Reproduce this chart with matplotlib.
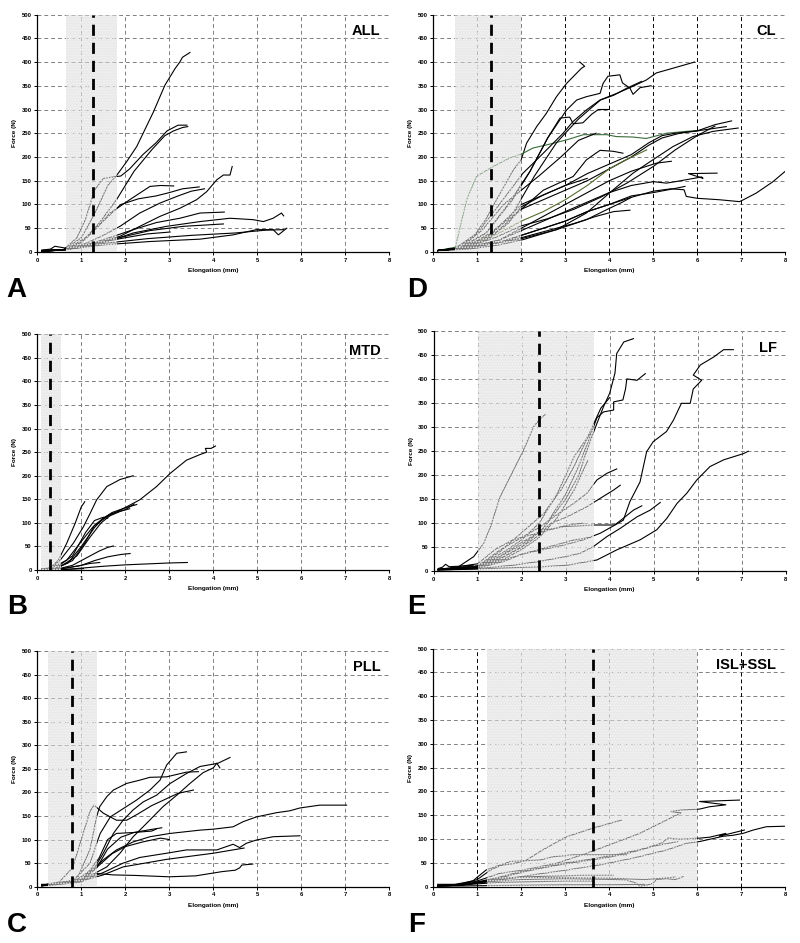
import numpy as np
import matplotlib.pyplot as plt

plt.rcParams['font.family'] = ['Liberation Sans', 'DejaVu Sans']
plt.rcParams['hatch.linewidth'] = 0.8

# ---- A: ALL ----
all_x = [
    [0.1, 0.6, 1.0, 1.3, 1.6, 1.81, 2.03, 2.26, 2.64, 2.9, 3.13, 3.24, 3.3, 3.47],
    [0.1, 0.6, 0.9, 1.1, 1.3, 1.5, 1.9, 2.1, 2.4, 2.7, 2.95, 3.2, 3.4],
    [0.1, 0.6, 1.0, 1.4, 1.8, 2.2, 2.6, 2.9, 3.1, 3.3, 3.42],
    [0.1, 0.65, 1.0, 1.3, 1.65, 1.88, 2.1, 2.33, 2.56, 2.8, 3.1],
    [0.1, 0.65, 1.1, 1.5, 1.9, 2.3, 2.7, 3.0, 3.3, 3.68],
    [0.1, 0.65, 1.1, 1.5, 1.88, 2.33, 2.79, 3.2, 3.5, 3.8],
    [0.1, 0.65, 1.2, 1.88, 2.33, 2.79, 3.24, 3.62, 3.85, 4.08, 4.23, 4.38, 4.43],
    [0.1, 0.65, 1.3, 1.8, 2.18, 2.71, 3.24, 3.7, 4.25],
    [0.1, 0.65, 1.3, 1.8, 2.18, 2.94, 3.7, 4.38, 4.91, 5.14, 5.36, 5.55, 5.6],
    [0.1, 0.65, 1.4, 2.0, 2.56, 3.32, 4.23],
    [0.1, 0.65, 1.5, 2.56, 3.7, 4.45, 4.98, 5.36, 5.48, 5.67],
    [0.1, 0.65, 1.5, 2.5, 3.5, 4.5, 5.2, 5.6],
    [0.1, 0.65, 1.3, 2.0, 2.5, 3.02],
    [0.1, 0.3, 0.4, 0.65],
]
all_y = [
    [2, 5, 30, 80, 140, 162, 190, 222, 295, 351, 386, 400, 410, 420],
    [3, 5, 30, 70, 130, 155, 160, 175, 205, 230, 255, 267, 267],
    [2, 5, 20, 60, 110, 170, 215, 245, 255, 262, 264],
    [1, 5, 20, 45, 82, 96, 110, 124, 138, 140, 139],
    [2, 5, 30, 65, 100, 112, 118, 125, 133, 137],
    [3, 5, 18, 35, 54, 82, 103, 118, 128, 133],
    [1, 5, 15, 33, 54, 75, 92, 110, 127, 152, 162, 162, 180],
    [2, 5, 20, 35, 47, 62, 71, 82, 84],
    [3, 5, 15, 28, 40, 54, 64, 71, 68, 64, 71, 82, 76],
    [1, 5, 20, 33, 45, 54, 59],
    [2, 5, 15, 22, 27, 36, 47, 47, 36, 50],
    [1, 5, 18, 28, 35, 40, 46, 47],
    [2, 5, 18, 30, 38, 42],
    [4, 6, 12, 8],
]

# ---- B: MTD ----
mtd_x = [
    [0.1, 0.3, 0.67, 0.97, 1.27, 1.58, 2.03, 2.33, 2.71, 3.02, 3.39, 3.7, 3.85, 3.82, 3.95, 4.05],
    [0.1, 0.3, 0.52, 0.82, 1.05, 1.2, 1.35, 1.58, 1.88, 2.18],
    [0.1, 0.3, 0.48, 0.67, 0.86, 1.0, 1.08],
    [0.1, 0.4, 0.7, 1.0, 1.3, 1.5, 1.7, 2.0, 2.26],
    [0.1, 0.4, 0.8, 1.1, 1.3, 1.5, 1.7, 2.0, 2.2],
    [0.1, 0.45, 0.9, 1.2, 1.45, 1.65, 1.9, 2.1],
    [0.1, 0.4, 0.8, 1.1, 1.3, 1.5, 1.6],
    [0.1, 0.45, 0.8, 1.1, 1.4, 1.6, 1.73],
    [0.1, 0.5, 1.0, 1.3, 1.6, 1.9, 2.11],
    [0.1, 0.5, 0.9, 1.2, 1.42],
    [0.1, 0.6, 1.0, 1.5, 2.0, 2.5, 3.0, 3.41],
    [0.1, 0.5, 0.8, 1.05],
]
mtd_y = [
    [2, 3, 21, 57, 92, 113, 134, 149, 177, 205, 233, 245, 250, 258, 258, 263],
    [1, 3, 21, 57, 92, 120, 149, 177, 192, 200],
    [2, 5, 21, 57, 99, 134, 145],
    [1, 3, 15, 50, 90, 110, 122, 132, 139],
    [2, 3, 20, 60, 95, 110, 120, 128, 140],
    [1, 3, 30, 70, 100, 115, 125, 130],
    [2, 3, 30, 80, 105, 112, 110],
    [1, 2, 10, 25, 40, 48, 51],
    [1, 2, 10, 20, 28, 33, 35],
    [1, 2, 8, 14, 16],
    [1, 1, 4, 8, 11, 13, 15, 16],
    [0, 1, 2, 3],
]

# ---- C: PLL ----
pll_x = [
    [0.1, 0.2, 0.5, 0.8, 1.0, 1.2, 1.29, 1.5, 1.8, 2.03, 2.3, 2.6, 2.9, 3.2, 3.55],
    [0.1, 0.3, 0.8, 1.2, 1.35, 1.43, 1.66, 1.96, 2.26, 2.56, 2.79, 2.94, 3.17, 3.39],
    [0.1, 0.3, 0.9, 1.3, 1.5, 1.73, 1.95, 2.18, 2.41, 2.71, 3.02, 3.39, 3.7, 4.0, 4.11, 4.38],
    [0.1, 0.3, 1.0, 1.3, 1.58, 1.88, 2.18, 2.48, 2.86, 3.17, 3.47, 3.77, 4.0, 4.08, 4.15],
    [0.1, 0.3, 0.9, 1.2, 1.35, 1.42, 1.58, 1.73, 2.03, 2.33, 2.56, 2.94, 3.39, 3.66],
    [0.1, 0.4, 1.0, 1.35, 1.6, 1.9, 2.2, 2.5, 2.83],
    [0.1, 0.4, 1.0, 1.4, 1.6, 1.8, 2.2, 2.6, 2.7],
    [0.1, 0.3, 1.0, 1.5, 1.8, 2.18, 2.56, 3.02, 3.7, 4.0, 4.45, 4.68, 4.98, 5.44, 5.74, 5.97, 6.42, 7.03],
    [0.1, 0.3, 1.0, 1.5, 1.95, 2.33, 2.94, 3.39, 4.08, 4.45, 4.6, 4.75, 4.98, 5.36, 5.97],
    [0.1, 0.3, 1.0, 1.4, 1.7, 2.0, 2.4, 2.8, 3.0],
    [0.1, 0.3, 1.0, 1.5, 1.95, 2.94, 4.0, 4.7],
    [0.1, 0.3, 1.0, 1.35, 1.73, 2.2, 3.0, 3.6, 4.2, 4.5, 4.6, 4.65, 4.9],
]
pll_y = [
    [3, 5, 10, 40, 100, 160, 173, 156, 141, 141, 155, 172, 185, 198, 205],
    [2, 5, 12, 50, 92, 113, 148, 166, 184, 205, 226, 258, 283, 286],
    [4, 5, 15, 40, 71, 113, 141, 163, 180, 194, 219, 240, 255, 260, 262, 274],
    [3, 5, 15, 28, 42, 71, 106, 134, 170, 194, 219, 242, 252, 262, 252],
    [5, 5, 15, 80, 149, 170, 191, 205, 219, 226, 232, 233, 243, 244],
    [2, 5, 12, 40, 80, 105, 115, 120, 125],
    [3, 5, 12, 60, 100, 113, 115, 118, 122],
    [4, 5, 15, 57, 78, 95, 106, 113, 120, 122, 127, 138, 148, 157, 161, 167, 173, 173],
    [2, 5, 12, 30, 50, 62, 71, 78, 78, 90, 83, 92, 99, 106, 108],
    [3, 5, 12, 45, 70, 85, 95, 103, 100],
    [2, 5, 12, 25, 42, 58, 71, 82],
    [2, 3, 10, 28, 25, 24, 21, 23, 32, 35, 40, 46, 48],
]

# ---- D: CL ----
cl_x = [
    [0.1, 0.5, 0.9, 1.2, 1.5, 1.8, 2.0, 2.12, 2.35, 2.57, 2.8, 3.03, 3.37, 3.44, 3.33],
    [0.1, 0.5, 0.76, 0.98, 1.36, 1.74, 2.0, 2.27, 2.6, 3.03, 3.41, 3.94, 4.16, 4.54, 4.84, 5.3, 5.75, 6.06],
    [0.1, 0.5, 1.0, 1.5, 2.04, 2.35, 2.65, 2.95, 3.18, 3.48, 3.79, 4.2, 4.54, 4.84, 5.07, 5.45, 5.94],
    [0.1, 0.6, 1.2, 1.8, 2.2, 2.6, 3.03, 3.26, 3.48, 3.79, 3.86, 3.97, 4.24, 4.3, 4.47, 4.54, 4.7, 4.95],
    [0.1, 0.6, 1.2, 1.8, 2.3, 2.8, 3.3, 3.8, 4.1, 4.4, 4.73],
    [0.1, 0.6, 1.2, 1.7, 2.2, 2.6, 2.88, 3.1, 3.18, 3.4, 3.6, 3.75, 4.0],
    [0.1, 0.6, 1.3, 2.0, 2.5, 3.0, 3.5, 4.0, 4.5, 4.9, 5.2, 5.6, 6.0, 6.4, 6.78],
    [0.1, 0.7, 1.5, 2.0, 2.8, 3.48, 4.09, 4.54, 4.99, 5.45, 5.9, 6.36, 6.93],
    [0.1, 0.6, 1.3, 2.0, 2.5, 3.0, 3.5, 4.0, 4.5, 4.9, 5.2, 5.5, 6.0, 6.66],
    [0.1, 0.7, 1.5, 2.0, 2.5, 3.0, 3.5, 4.0, 4.4, 4.85],
    [0.1, 0.7, 1.4, 2.0, 2.6, 3.2, 3.8, 4.4, 5.0, 5.5, 6.0, 6.4],
    [0.1, 0.7, 1.5, 2.0, 2.5, 3.0, 3.5, 4.0, 4.5, 5.0, 5.4, 5.7, 5.75, 6.0, 6.5, 6.96, 7.05, 7.34, 7.72, 8.0],
    [0.1, 0.7, 1.5, 2.0, 2.5, 3.0, 3.5, 4.0, 4.5, 5.0, 5.3, 5.5, 6.1, 6.13, 5.8, 6.45],
    [0.1, 0.7, 1.5, 2.0, 2.5, 3.0, 3.5, 4.0, 4.5, 5.07, 5.41],
    [0.1, 0.7, 1.5, 2.0, 2.5, 3.0, 3.5, 4.0, 4.5, 5.0, 5.4, 5.72],
    [0.1, 0.8, 1.5, 2.0, 2.6, 3.2, 3.7, 4.1, 4.47],
    [0.1, 0.8, 1.5, 2.04, 2.8, 3.48, 3.94, 4.3, 4.5],
    [0.1, 0.7, 1.3, 2.0, 2.5, 3.18, 3.48, 3.79, 4.09, 4.31],
    [0.1, 0.6, 1.1, 1.6, 2.0, 2.4, 2.9, 3.3, 3.7],
    [0.1, 0.6, 1.2, 1.7, 2.0, 2.5, 3.0, 3.5],
]
cl_y = [
    [3, 8, 30, 70, 120, 170, 195, 229, 264, 292, 327, 355, 387, 391, 400],
    [3, 10, 110, 159, 180, 198, 206, 219, 226, 236, 247, 247, 243, 242, 239, 250, 254, 256],
    [3, 8, 40, 100, 166, 194, 222, 250, 275, 299, 320, 335, 349, 362, 377, 387, 400],
    [3, 8, 40, 110, 170, 240, 299, 320, 327, 334, 355, 370, 373, 356, 345, 332, 346, 350],
    [3, 8, 30, 80, 160, 230, 280, 320, 330, 345, 359],
    [3, 8, 40, 100, 170, 240, 282, 284, 270, 272, 290, 300, 300],
    [3, 8, 30, 90, 110, 130, 150, 175, 200, 225, 240, 250, 255, 268, 276],
    [3, 8, 20, 28, 47, 82, 131, 166, 194, 222, 243, 254, 261],
    [3, 8, 35, 100, 120, 140, 165, 185, 205, 230, 245, 250, 255, 264],
    [3, 8, 40, 65, 85, 110, 140, 175, 195, 215],
    [3, 8, 30, 55, 70, 90, 115, 145, 180, 215, 245, 265],
    [3, 8, 20, 35, 50, 65, 85, 100, 115, 128, 133, 131, 117, 113, 110, 106, 110, 124, 148, 170],
    [3, 8, 25, 45, 65, 85, 105, 125, 140, 148, 145, 148, 158, 155, 165, 166],
    [3, 8, 25, 50, 75, 100, 125, 150, 170, 187, 191],
    [3, 8, 20, 35, 50, 65, 85, 100, 118, 125, 132, 138],
    [3, 8, 20, 30, 45, 60, 75, 85, 88],
    [3, 6, 15, 26, 47, 68, 89, 105, 115],
    [3, 8, 40, 90, 130, 159, 194, 214, 212, 208],
    [3, 8, 45, 100, 130, 160, 200, 235, 250],
    [3, 8, 25, 60, 95, 120, 140, 155],
]
cl_color = ['k', '#3a6b3a', 'k', 'k', 'k', 'k', 'k', 'k', 'k', '#556b2f',
            'k', 'k', 'k', 'k', 'k', 'k', 'k', 'k', 'k', 'k']

# ---- E: LF ----
lf_x = [
    [0.1, 0.5, 0.91, 1.14, 1.29, 1.51, 1.74, 2.04, 2.27, 2.42, 2.54],
    [0.1, 1.0, 1.5, 2.0, 2.5, 3.0, 3.3, 3.48, 3.71, 3.86, 4.0, 4.12, 4.16, 4.32, 4.54],
    [0.1, 1.0, 1.5, 2.0, 2.5, 3.0, 3.3, 3.55, 3.71, 3.86, 4.09, 4.09, 4.3, 4.36, 4.39, 4.62, 4.81],
    [0.1, 1.0, 1.5, 2.0, 2.5, 2.9, 3.2, 3.5, 3.8, 4.0],
    [0.1, 1.0, 1.6, 2.0, 2.4, 2.8, 3.2, 3.56],
    [0.1, 1.0, 1.51, 2.04, 2.42, 2.73, 3.18, 3.48, 3.71, 3.94, 4.16],
    [0.1, 1.0, 1.6, 2.0, 2.4, 2.65, 3.03, 3.48, 3.79, 4.09, 4.24],
    [0.1, 1.0, 1.5, 2.0, 2.5, 3.0, 3.66, 4.12, 4.31, 4.46, 4.69, 4.84, 4.99, 5.29, 5.45, 5.63,
     5.83, 5.9, 6.09, 5.9, 6.06, 6.37, 6.59, 6.81],
    [0.1, 1.0, 1.6, 2.0, 2.5, 3.0, 3.4, 3.79, 4.1, 4.31, 4.54, 4.73],
    [0.1, 1.0, 1.8, 2.4, 3.0, 3.33, 3.63, 3.94, 4.24, 4.62, 4.92, 5.15],
    [0.1, 1.0, 1.5, 2.5, 3.03, 3.71, 4.16, 4.69, 5.07, 5.3, 5.53, 5.75, 5.98, 6.28, 6.59, 7.04, 7.15],
    [0.1, 1.0, 1.5, 2.0, 2.4, 2.8, 3.2, 3.56],
    [0.1, 1.0, 1.4, 1.8, 2.2, 2.6, 3.0, 3.4],
    [0.1, 1.0, 1.6, 2.0, 2.4, 2.8, 3.2, 3.5],
    [0.1, 0.2, 0.27, 0.35, 0.6, 0.9],
]
lf_y = [
    [3, 5, 30, 58, 92, 155, 197, 252, 301, 318, 327],
    [3, 10, 30, 55, 90, 150, 200, 252, 308, 343, 371, 413, 454, 478, 485],
    [3, 8, 25, 50, 90, 160, 220, 280, 320, 332, 336, 353, 357, 380, 401, 398, 412],
    [3, 10, 40, 80, 120, 170, 220, 280, 340, 362],
    [3, 10, 40, 65, 100, 160, 240, 287],
    [3, 10, 44, 72, 92, 113, 141, 162, 190, 204, 213],
    [3, 8, 30, 50, 75, 99, 113, 134, 152, 169, 179],
    [3, 8, 30, 60, 85, 93, 96, 96, 106, 145, 186, 249, 270, 291, 315, 350,
     350, 380, 398, 409, 430, 447, 462, 462],
    [3, 6, 20, 35, 45, 55, 65, 79, 95, 110, 127, 136],
    [2, 5, 12, 20, 30, 37, 51, 72, 89, 113, 127, 143],
    [2, 4, 6, 9, 12, 23, 44, 65, 86, 110, 141, 162, 190, 218, 232, 245, 250],
    [3, 8, 20, 35, 45, 55, 65, 70],
    [3, 15, 45, 65, 75, 85, 95, 100],
    [3, 10, 25, 45, 70, 110, 170, 230],
    [5, 8, 14, 9, 10, 12],
]

# ---- F: ISL+SSL ----
isl_x = [
    [0.1, 0.5, 0.9, 1.0, 1.2, 1.5, 1.8, 2.1, 2.5, 3.03, 3.63, 4.28],
    [0.1, 0.6, 1.0, 1.3, 1.74, 2.42, 2.73, 3.18, 3.63, 4.39],
    [0.1, 0.6, 1.0, 1.51, 2.04, 2.8, 3.48, 4.09, 4.69, 5.3, 5.63, 5.4, 5.63, 6.05, 6.28, 6.65, 6.05, 6.96],
    [0.1, 0.6, 1.0, 1.51, 2.27, 3.03, 3.79, 4.54, 5.3, 5.75, 6.06, 6.59, 6.81, 7.04, 7.27, 7.57, 7.98],
    [0.1, 0.6, 1.0, 1.5, 2.0, 2.5, 3.0, 3.6, 4.2, 4.8, 5.2, 5.33, 5.6, 6.05, 6.28, 6.65, 6.5, 7.07],
    [0.1, 0.6, 1.0, 1.5, 2.0, 2.5, 3.0, 3.5, 4.0, 4.5, 5.0, 5.56],
    [0.1, 0.6, 1.0, 1.5, 2.0, 2.5, 3.0, 3.4, 3.63, 4.09],
    [0.1, 0.6, 1.0, 1.5, 2.0, 3.0, 3.6, 4.1, 4.39, 4.6, 4.7, 4.88, 4.99, 5.07, 5.3, 5.5, 5.68],
    [0.1, 0.6, 1.0, 1.5, 2.0, 2.5, 3.0, 3.6],
    [0.1, 1.0, 2.0, 3.0, 4.0, 4.8],
    [0.1, 0.6, 1.0, 1.5, 2.0, 3.0, 4.0, 4.8, 5.5],
]
isl_y = [
    [5, 5, 12, 20, 35, 45, 48, 55, 78, 105, 123, 140],
    [3, 5, 15, 35, 53, 56, 63, 67, 67, 67],
    [3, 5, 12, 28, 35, 49, 70, 91, 112, 140, 155, 158, 161, 163, 168, 172, 179, 182],
    [2, 3, 8, 14, 25, 35, 46, 60, 77, 91, 95, 106, 108, 112, 119, 126, 127],
    [2, 3, 8, 18, 30, 40, 50, 58, 68, 80, 92, 102, 100, 102, 104, 112, 106, 119],
    [2, 3, 10, 20, 32, 40, 48, 55, 62, 72, 85, 95],
    [2, 3, 10, 15, 20, 22, 23, 24, 24, 24],
    [2, 3, 8, 12, 15, 17, 16, 15, 14, 8, 1, 4, 7, 15, 17, 15, 21],
    [2, 3, 6, 9, 10, 11, 12, 12],
    [1, 2, 3, 4, 4, 5],
    [2, 3, 8, 18, 20, 19, 18, 15, 20],
]

# panel settings: name, letter, shaded band, mean line, gridlines drawn black
panels = [
    ('ALL', 'A', (0.65, 1.82), 1.26, [], all_x, all_y, None),
    ('MTD', 'B', (0.08, 0.54), 0.29, [], mtd_x, mtd_y, None),
    ('PLL', 'C', (0.24, 1.36), 0.80, [], pll_x, pll_y, None),
    ('CL', 'D', (0.5, 2.0), 1.31, [3, 4, 5, 6, 7], cl_x, cl_y, cl_color),
    ('LF', 'E', (1.0, 3.65), 2.39, [], lf_x, lf_y, None),
    ('ISL+SSL', 'F', (1.23, 6.0), 3.64, [1, 7], isl_x, isl_y, None),
]

# axes rectangles in figure fractions
rects = [
    [0.0466, 0.7328, 0.440, 0.2518],
    [0.0466, 0.3955, 0.440, 0.2500],
    [0.0466, 0.0597, 0.440, 0.2500],
    [0.5416, 0.7328, 0.440, 0.2518],
    [0.5421, 0.3945, 0.440, 0.2540],
    [0.5416, 0.0597, 0.440, 0.2524],
]
letter_pos = [(0.021, 0.692), (0.021, 0.356), (0.021, 0.019),
              (0.521, 0.692), (0.521, 0.356), (0.521, 0.019)]

fig = plt.figure(figsize=(8, 9.43), dpi=100)

for (name, letter, band, mean, black_v, xs, ys, cols), rect, lp in zip(panels, rects, letter_pos):
    ax = fig.add_axes(rect)
    ax.set_xlim(0, 8)
    ax.set_ylim(0, 500)
    ax.set_xticks(range(0, 9))
    ax.set_yticks(range(0, 501, 50))

    for yv in range(50, 501, 50):
        ax.axhline(yv, color='#808080', lw=0.7, dashes=(4, 3), zorder=1)
    for xv in range(1, 9):
        c = 'k' if xv in black_v else '#808080'
        ax.axvline(xv, color=c, lw=0.7, dashes=(4, 3), zorder=1)

    for i, (cx, cy) in enumerate(zip(xs, ys)):
        col = cols[i] if cols else 'k'
        ax.plot(cx, cy, color=col, lw=0.8, zorder=2)

    # stippled grey band laid over the curves
    ax.axvspan(band[0], band[1], facecolor='#d8d8d8', edgecolor='none', alpha=0.55, zorder=3)
    ax.axvspan(band[0], band[1], facecolor='none', edgecolor='#f4f4f4', hatch='......',
               linewidth=0, zorder=3)
    ax.axvline(mean, color='k', lw=2.0, dashes=(4, 2.5), zorder=4)

    for s in ['top', 'right']:
        ax.spines[s].set_visible(False)
    for s in ['left', 'bottom']:
        ax.spines[s].set_linewidth(0.9)
    ax.tick_params(labelsize=4.2, length=2, width=0.7, pad=2)
    for lab in ax.get_xticklabels() + ax.get_yticklabels():
        lab.set_fontweight('bold')
    ax.set_xlabel('Elongation (mm)', fontsize=4.6, fontweight='bold', labelpad=4)
    ax.set_ylabel('Force (N)', fontsize=4.6, fontweight='bold', labelpad=3)
    ax.text(0.975, 0.93, name, transform=ax.transAxes, ha='right', va='center',
            fontsize=10.5, fontweight='bold', zorder=5)
    fig.text(lp[0], lp[1], letter, ha='center', va='center', fontsize=20, fontweight='bold')

fig.savefig('out.png', dpi=100)
